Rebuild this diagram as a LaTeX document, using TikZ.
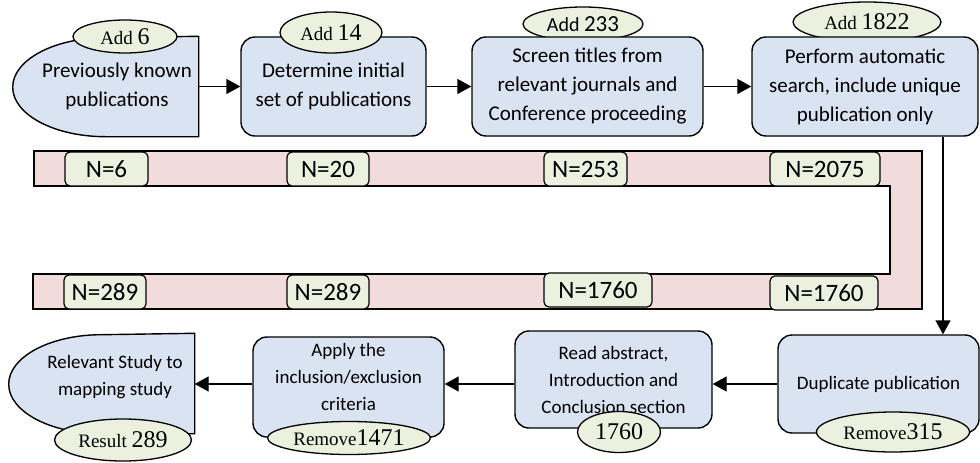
\documentclass[tikz,border=0pt]{standalone}
\usepackage{fontspec}
\setmainfont{Carlito}
\newfontfamily\tnr{Liberation Serif}
\usetikzlibrary{shapes.geometric,arrows.meta,backgrounds}
\definecolor{boxblue}{HTML}{DAE3F1}
\definecolor{tagolive}{HTML}{EBF1DE}
\definecolor{bandpink}{HTML}{F2DCDB}
\tikzstyle{stage} = [rectangle, rounded corners=14pt, draw=black, line width=1.4pt, fill=boxblue, align=center, inner sep=2pt]
\tikzstyle{halfround} = [draw=black, line width=1.4pt, fill=boxblue]
\tikzstyle{tag} = [ellipse, draw=black, line width=1.3pt, fill=tagolive, inner sep=0pt]
\tikzstyle{count} = [rectangle, rounded corners=5pt, draw=black, line width=1.2pt, fill=tagolive, minimum height=34pt, inner sep=0pt, font=\fontsize{25}{25}\selectfont]
\tikzstyle{band} = [draw=black, line width=1.4pt, fill=bandpink]
\tikzstyle{arr} = [-{Triangle[length=14pt,width=15pt]}, line width=1.4pt]
\newcommand{\topfont}{\fontsize{21}{29}\selectfont}
\newcommand{\lowfont}{\fontsize{19}{27}\selectfont}
\newcommand{\tagnum}[2]{{\tnr\fontsize{19}{20}\selectfont #1\fontsize{24}{24}\selectfont #2}}

\begin{document}
\begin{tikzpicture}[x=1pt,y=-1pt]
\useasboundingbox (0,0) rectangle (980,463);

% running totals
\draw[band] (34,151) -- (922,151) -- (922,309) -- (33,309) -- (33,274) -- (890,274) -- (890,186) -- (34,186) -- cycle;
\foreach \nm/\x/\y/\w/\t in {n6/106.5/169/83/6, n20/328/169/82/20, n253/585.5/169/83/253, n2075/825/169/110/2075,
  m289/105/292/82/289, mm289/328/292/82/289, m1760/598/290/108/1760, mm1760/824/293/108/1760}
  \node[count, minimum width=\w pt] (\nm) at (\x,\y) {N=\t};

% labels sitting behind their boxes
\node[tag, minimum width=120pt, minimum height=34pt] (add233) at (583,24) {\fontsize{20}{20}\selectfont Add \fontsize{23}{23}\selectfont 233};
\node[tag, minimum width=148pt, minimum height=40pt] (add1822) at (867,22) {\tagnum{Add }{1822}};

% top row
\node[stage, draw=none, fill=none, minimum width=162pt, minimum height=99pt, font=\topfont] (prev) at (117,86.5) {Previously known\\publications};
\node[stage, minimum width=185pt, minimum height=99pt, font=\topfont] (det) at (333.5,86.5) {Determine initial\\set of publications};
\node[stage, minimum width=231pt, minimum height=99pt, font=\topfont] (scr) at (587.5,86.5) {Screen titles from\\relevant journals and\\Conference proceeding};
\node[stage, minimum width=226pt, minimum height=99pt, font=\topfont] (auto) at (865,86.5) {Perform automatic\\search, include unique\\publication only};

% bottom row
\node[stage, minimum width=201pt, minimum height=98pt, font=\lowfont] (dup) at (878.5,384) {Duplicate publication};
\node[stage, minimum width=197pt, minimum height=97pt, font=\lowfont] (read) at (613.5,379.5) {Read abstract,\\Introduction and\\Conclusion section};
\node[stage, minimum width=191pt, minimum height=100pt, font=\lowfont] (apply) at (348.5,387) {Apply the\\inclusion/exclusion\\criteria\\[-6pt]};
\node[stage, draw=none, fill=none, minimum width=158pt, minimum height=99pt, font=\lowfont] (rel) at (115,383.5) {Relevant Study to\\mapping study\\[-10pt]};

\begin{scope}[on background layer]
  \draw[halfround] (prev.north east) -- (prev.south east) -- ([xshift=-93pt]prev.south east)
    arc[start angle=270, end angle=90, x radius=93pt, y radius=49.5pt] -- cycle;
  \draw[halfround] (rel.north east) -- (rel.south east) -- ([xshift=-93pt]rel.south east)
    arc[start angle=270, end angle=90, x radius=93pt, y radius=49.5pt] -- cycle;
\end{scope}

% labels in front
\node[tag, minimum width=104pt, minimum height=33pt] (add6) at (125,36.5) {\tagnum{Add }{6}};
\node[tag, minimum width=102pt, minimum height=41pt] (add14) at (331,32.5) {\tagnum{Add }{14}};
\node[tag, minimum width=153pt, minimum height=40pt] (rm315) at (893,432) {\tagnum{Remove}{315}};
\node[tag, minimum width=83pt, minimum height=41pt] (kept1760) at (619,432) {\tagnum{}{1760}};
\node[tag, minimum width=163pt, minimum height=33pt] (rm1471) at (349,438) {\tagnum{Remove}{1471}};
\node[tag, minimum width=137pt, minimum height=42pt] (res289) at (123,440) {\tagnum{Result }{289}};

% flow
\draw[arr] (prev.east) -- (det.west);
\draw[arr] (det.east) -- (scr.west);
\draw[arr] (scr.east) -- (auto.west);
\draw[arr] ([xshift=78pt]auto.south) -- ([xshift=78pt]auto.south |- dup.north);
\draw[arr] (dup.west) -- (dup.west -| read.east);
\draw[arr] (read.west |- dup.west) -- (apply.east |- dup.west);
\draw[arr] (apply.west |- dup.west) -- (rel.east |- dup.west);
\end{tikzpicture}
\end{document}
